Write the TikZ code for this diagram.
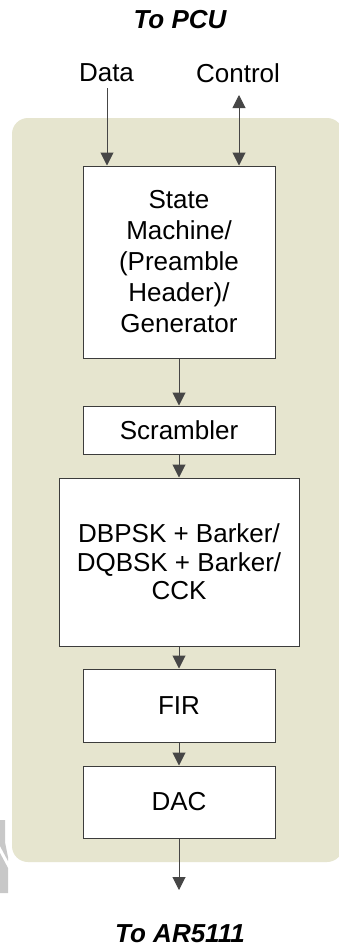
\documentclass[tikz,border=0pt]{standalone}
\usepackage{fontspec}
\setmainfont{Liberation Sans}
\usetikzlibrary{arrows.meta}
\definecolor{panel}{RGB}{230,229,207}
\definecolor{boxline}{RGB}{60,60,60}
\definecolor{wire}{RGB}{70,70,70}
\definecolor{logogray}{RGB}{200,200,200}
\tikzset{
  tip/.tip={Triangle[width=13pt,length=13pt]},
  stage/.style={draw=boxline, line width=1pt, fill=white, align=center,
    inner sep=0pt, font=\fontsize{26}{31}\selectfont},
  flow/.style={line width=1pt, draw=wire, -tip},
  dflow/.style={line width=1pt, draw=wire, tip-tip},
  lbl/.style={font=\fontsize{26}{31}\selectfont, inner sep=0pt},
  ttl/.style={font=\fontsize{26}{31}\selectfont\bfseries\itshape, inner sep=0pt}
}
\begin{document}
\begin{tikzpicture}[x=1pt,y=-1pt]
\useasboundingbox (0,0) rectangle (339,948);
\fill[white] (0,0) rectangle (339,948);

% baseband panel
\fill[panel, rounded corners=16pt] (12,118) rectangle (343,862);

% faint logo fragment at the lower left edge
\fill[logogray] (0,820) -- (5,820) -- (5,842) -- (8,857) -- (8,861) -- (0,846) -- cycle;
\fill[logogray] (0,853) -- (8,868) -- (8,893) -- (0,893) -- cycle;

% labels
\node[ttl] (pcu) at (180,20) {To PCU};
\node[lbl] (data) at (106.5,73) {Data};
\node[lbl] (ctrl) at (238,73) {Control};
\node[ttl] (ar) at (180,934) {To AR5111};

% processing chain
\node[stage, minimum width=192pt, minimum height=192pt] (sm) at (179,262)
  {State\\Machine/\\(Preamble\\Header)/\\Generator};
\node[stage, minimum width=192pt, minimum height=48pt] (scr) at (179,430) {Scrambler};
\node[stage, minimum width=240pt, minimum height=168pt,
  font=\fontsize{26}{28.5}\selectfont] (mod) at (179,562)
  {DBPSK + Barker/\\DQBSK + Barker/\\CCK};
\node[stage, minimum width=192pt, minimum height=73pt] (fir) at (179,705.5) {FIR};
\node[stage, minimum width=192pt, minimum height=72pt] (dac) at (179,802) {DAC};

% connector ends
\coordinate (din) at (107,88);
\coordinate (cin) at (239,95);
\coordinate (out) at (179,890);

% connectors
\draw[flow] (din) -- (din |- sm.north);
\draw[dflow] (cin) -- (cin |- sm.north);
\draw[flow] (sm) -- (scr);
\draw[flow] (scr) -- (mod);
\draw[flow] (mod) -- (fir);
\draw[flow] (fir) -- (dac);
\draw[flow] (dac) -- (out);
\end{tikzpicture}
\end{document}
